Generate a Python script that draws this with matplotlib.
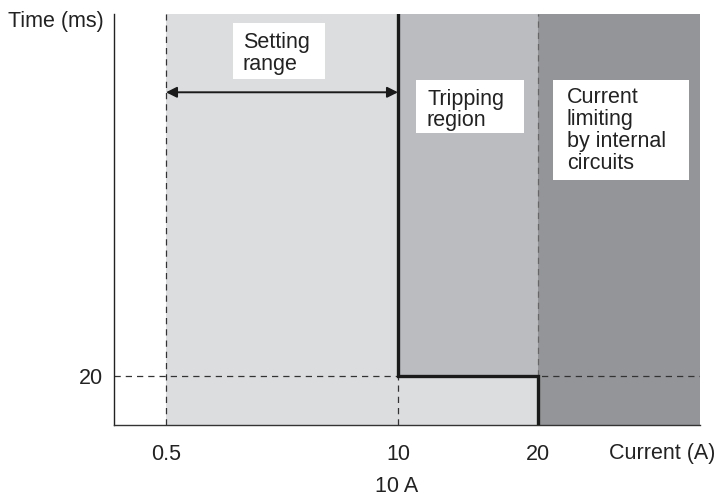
import matplotlib
matplotlib.use("Agg")
import matplotlib.pyplot as plt
from matplotlib.patches import Rectangle

plt.rcParams['font.family'] = ['Liberation Sans', 'DejaVu Sans']

# Schematic axis: positions (arbitrary units) of the current ticks
x_tick_labels = ["0.5", "10", "20"]
x_tick_pos = [52, 284, 424]
x_max = 586
y_tick_value = 20
y_max = 168
x_label = "Current (A)"
y_label = "Time (ms)"
sub_label = "10 A"
region_labels = ["Setting\nrange", "Tripping\nregion", "Current\nlimiting\nby internal\ncircuits"]

c_light = "#dcdddf"
c_mid = "#bbbcbf"
c_dark = "#949598"

fig = plt.figure(figsize=(7.17, 5.0), dpi=100)
ax = fig.add_axes([114/717, 75/500, 586/717, 411/500])
ax.set_xlim(0, x_max)
ax.set_ylim(0, y_max)

x05, x10, x20 = x_tick_pos
# regions
ax.add_patch(Rectangle((x05, 0), x20 - x05, y_max, facecolor=c_light, edgecolor='none', zorder=0))
ax.add_patch(Rectangle((x10, y_tick_value), x20 - x10, y_max - y_tick_value, facecolor=c_mid, edgecolor='none', zorder=0))
ax.add_patch(Rectangle((x20, 0), x_max - x20, y_max, facecolor=c_dark, edgecolor='none', zorder=0))

dash = dict(color='#333333', lw=0.9, linestyle=(0, (5, 4)), zorder=1)
ax.plot([x05, x05], [0, y_max], **dash)
ax.plot([0, x_max], [y_tick_value, y_tick_value], **dash)
ax.plot([x10, x10], [0, y_tick_value], **dash)
ax.plot([x20, x20], [y_tick_value, y_max], color='#666666', lw=0.9, linestyle=(0, (5, 4)), zorder=1)

# tripping boundary
ax.plot([x10, x10, x20, x20], [y_max, y_tick_value, y_tick_value, 0], color='#1a1a1a', lw=2.4,
        solid_joinstyle='miter', zorder=3)

# setting range arrow
ax.annotate('', xy=(x05, 136), xytext=(x10, 136),
            arrowprops=dict(arrowstyle='<|-|>', color='#1a1a1a', lw=1.4,
                            mutation_scale=16, shrinkA=0, shrinkB=0), zorder=4)

fs = 15.5
# label boxes (x0, x1, y0, y1) and text anchor
boxes = [((119, 211, 141.6, 164.5), (129, 160.5)),
         ((302, 410, 119.2, 141.2), (313, 137.5)),
         ((439, 575, 100.0, 141.2), (453, 138.0))]
for (bx, (tx, ty)), lab in zip(boxes, region_labels):
    x0, x1, y0, y1 = bx
    ax.add_patch(Rectangle((x0, y0), x1 - x0, y1 - y0, facecolor='white', edgecolor='none', zorder=5))
    ax.text(tx, ty, lab, fontsize=fs, ha='left', va='top', linespacing=1.05, color='#222222', zorder=6)

# spines
for s in ['top', 'right']:
    ax.spines[s].set_visible(False)
ax.spines['left'].set_color('#222222')
ax.spines['bottom'].set_color('#333333')
ax.spines['left'].set_linewidth(1.0)
ax.spines['bottom'].set_linewidth(1.0)

ax.set_xticks(x_tick_pos)
ax.set_xticklabels(x_tick_labels, fontsize=fs, color='#222222')
ax.set_yticks([y_tick_value])
ax.set_yticklabels([str(y_tick_value)], fontsize=fs, color='#222222')
ax.tick_params(axis='x', length=0, pad=14)
ax.tick_params(axis='y', length=0, pad=8)

fig.text(56/717, 1 - 22/500, y_label, fontsize=fs, ha='center', va='center', color='#222222')
fig.text(715/717, 1 - 453/500, x_label, fontsize=fs, ha='right', va='center', color='#222222')
fig.text(397/717, 1 - 487/500, sub_label, fontsize=fs, ha='center', va='center', color='#222222')

fig.savefig("out.png", dpi=100)
